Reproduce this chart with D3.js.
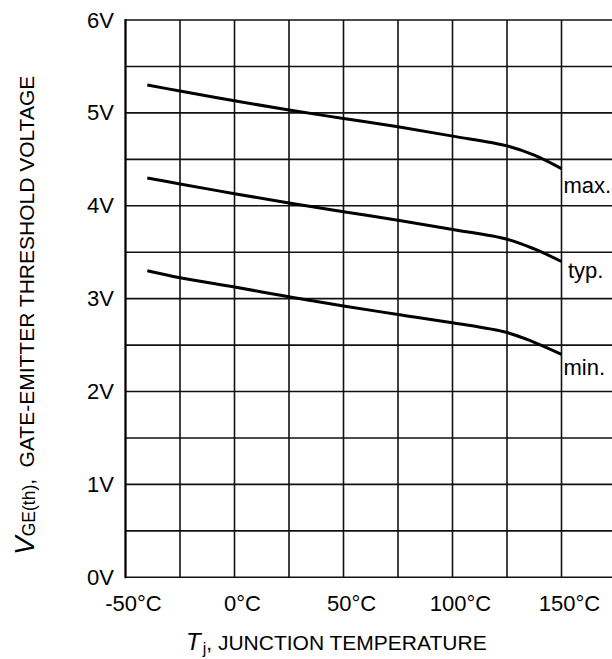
<!DOCTYPE html>
<html>
<head>
<meta charset="utf-8">
<script src="https://cdn.jsdelivr.net/npm/d3@7"></script>
<style>
  html, body { margin: 0; padding: 0; background: #fff; }
  svg { display: block; font-family: "Liberation Sans", Arial, Helvetica, sans-serif; }
</style>
</head>
<body>
<svg id="chart" width="612" height="659"></svg>
<script>
// Junction temperature (°C) sample points
const temperatures = [-40, -25, 0, 25, 50, 75, 100, 125, 137.5, 150];

// Gate-emitter threshold voltage (V) for each curve
const vMax = [5.30, 5.235, 5.13, 5.03, 4.94, 4.85, 4.75, 4.645, 4.545, 4.40];
const vTyp = [4.30, 4.235, 4.13, 4.03, 3.935, 3.845, 3.745, 3.64, 3.535, 3.40];
const vMin = [3.30, 3.225, 3.125, 3.02, 2.92, 2.83, 2.74, 2.635, 2.53, 2.40];

const curveNames = ["max.", "typ.", "min."];

// Axis ticks
const xTickLabels = [-50, 0, 50, 100, 150];
const yTickLabels = [0, 1, 2, 3, 4, 5, 6];
const xGrid = [-50, -25, 0, 25, 50, 75, 100, 125, 150, 175];
const yGrid = [0, 0.5, 1, 1.5, 2, 2.5, 3, 3.5, 4, 4.5, 5, 5.5, 6];

const svg = d3.select("#chart");

const plotLeft = 125.5, plotTop = 20, plotBottom = 577.3, cell = 54.5;
const x = d3.scaleLinear().domain([-50, 175]).range([plotLeft, plotLeft + 9 * cell]);
const y = d3.scaleLinear().domain([0, 6]).range([plotBottom, plotTop]);

// grid
const grid = svg.append("g").attr("stroke", "#111").attr("stroke-width", 1.6);
grid.selectAll("line.v").data(xGrid).join("line")
  .attr("class", "v")
  .attr("x1", d => x(d)).attr("x2", d => x(d))
  .attr("y1", y(0)).attr("y2", y(6));
grid.selectAll("line.h").data(yGrid).join("line")
  .attr("class", "h")
  .attr("x1", x(-50)).attr("x2", x(175))
  .attr("y1", d => y(d)).attr("y2", d => y(d));
// slightly heavier left frame
svg.append("line").attr("stroke", "#000").attr("stroke-width", 2)
  .attr("x1", x(-50)).attr("x2", x(-50)).attr("y1", y(0) + 1).attr("y2", y(6) - 1);

// y axis labels
const yAxis = svg.append("g")
  .attr("transform", `translate(${plotLeft},0)`)
  .call(d3.axisLeft(y).tickValues(yTickLabels).tickFormat(d => d + "V").tickSize(0).tickPadding(11.5));
yAxis.select(".domain").remove();
yAxis.selectAll("text").attr("font-size", 22).attr("fill", "#000")
  .attr("font-family", "'Liberation Sans', Arial, sans-serif");

// x axis labels
const xAxis = svg.append("g")
  .attr("transform", `translate(0,${plotBottom})`)
  .call(d3.axisBottom(x).tickValues(xTickLabels).tickFormat(d => d + "°C").tickSize(0).tickPadding(18.5));
xAxis.select(".domain").remove();
xAxis.selectAll("text").attr("font-size", 22).attr("fill", "#000").attr("dx", 7.5)
  .attr("font-family", "'Liberation Sans', Arial, sans-serif");

// curves
const series = [vMax, vTyp, vMin];
const line = d3.line()
  .x((d, i) => x(temperatures[i]))
  .y(d => y(d))
  .curve(d3.curveCatmullRom.alpha(0.5));

svg.append("g").selectAll("path").data(series).join("path")
  .attr("d", line)
  .attr("fill", "none")
  .attr("stroke", "#000")
  .attr("stroke-width", 3)
  .attr("stroke-linecap", "butt");

// curve labels beside the right-hand ends
const labelShift = [{ dx: 2, dy: 24.5 }, { dx: 6.5, dy: 17 }, { dx: 2, dy: 21 }];
svg.append("g").selectAll("text").data(series).join("text")
  .attr("x", (d, i) => x(temperatures[temperatures.length - 1]) + labelShift[i].dx)
  .attr("y", (d, i) => y(d[d.length - 1]) + labelShift[i].dy)
  .attr("font-size", 22)
  .text((d, i) => curveNames[i]);

// y axis title
const yTitle = svg.append("text")
  .attr("transform", "translate(33.5,555) rotate(-90)")
  .attr("font-size", 21);
yTitle.append("tspan").attr("font-style", "italic").attr("font-size", 28).text("V");
yTitle.append("tspan").attr("font-size", 17.5).attr("dy", 1.5).text("GE(th)");
yTitle.append("tspan").attr("dy", -1.5).text(",");
yTitle.append("tspan").attr("dx", 11.5).text("GATE-EMITTER THRESHOLD VOLTAGE");

// x axis title
const xTitle = svg.append("text")
  .attr("x", 186).attr("y", 650)
  .attr("font-size", 21);
xTitle.append("tspan").attr("font-style", "italic").attr("font-size", 24).text("T");
xTitle.append("tspan").attr("font-size", 16).attr("dx", 2).attr("dy", 4).text("j");
xTitle.append("tspan").attr("dy", -4).text(", JUNCTION TEMPERATURE");
</script>
</body>
</html>
